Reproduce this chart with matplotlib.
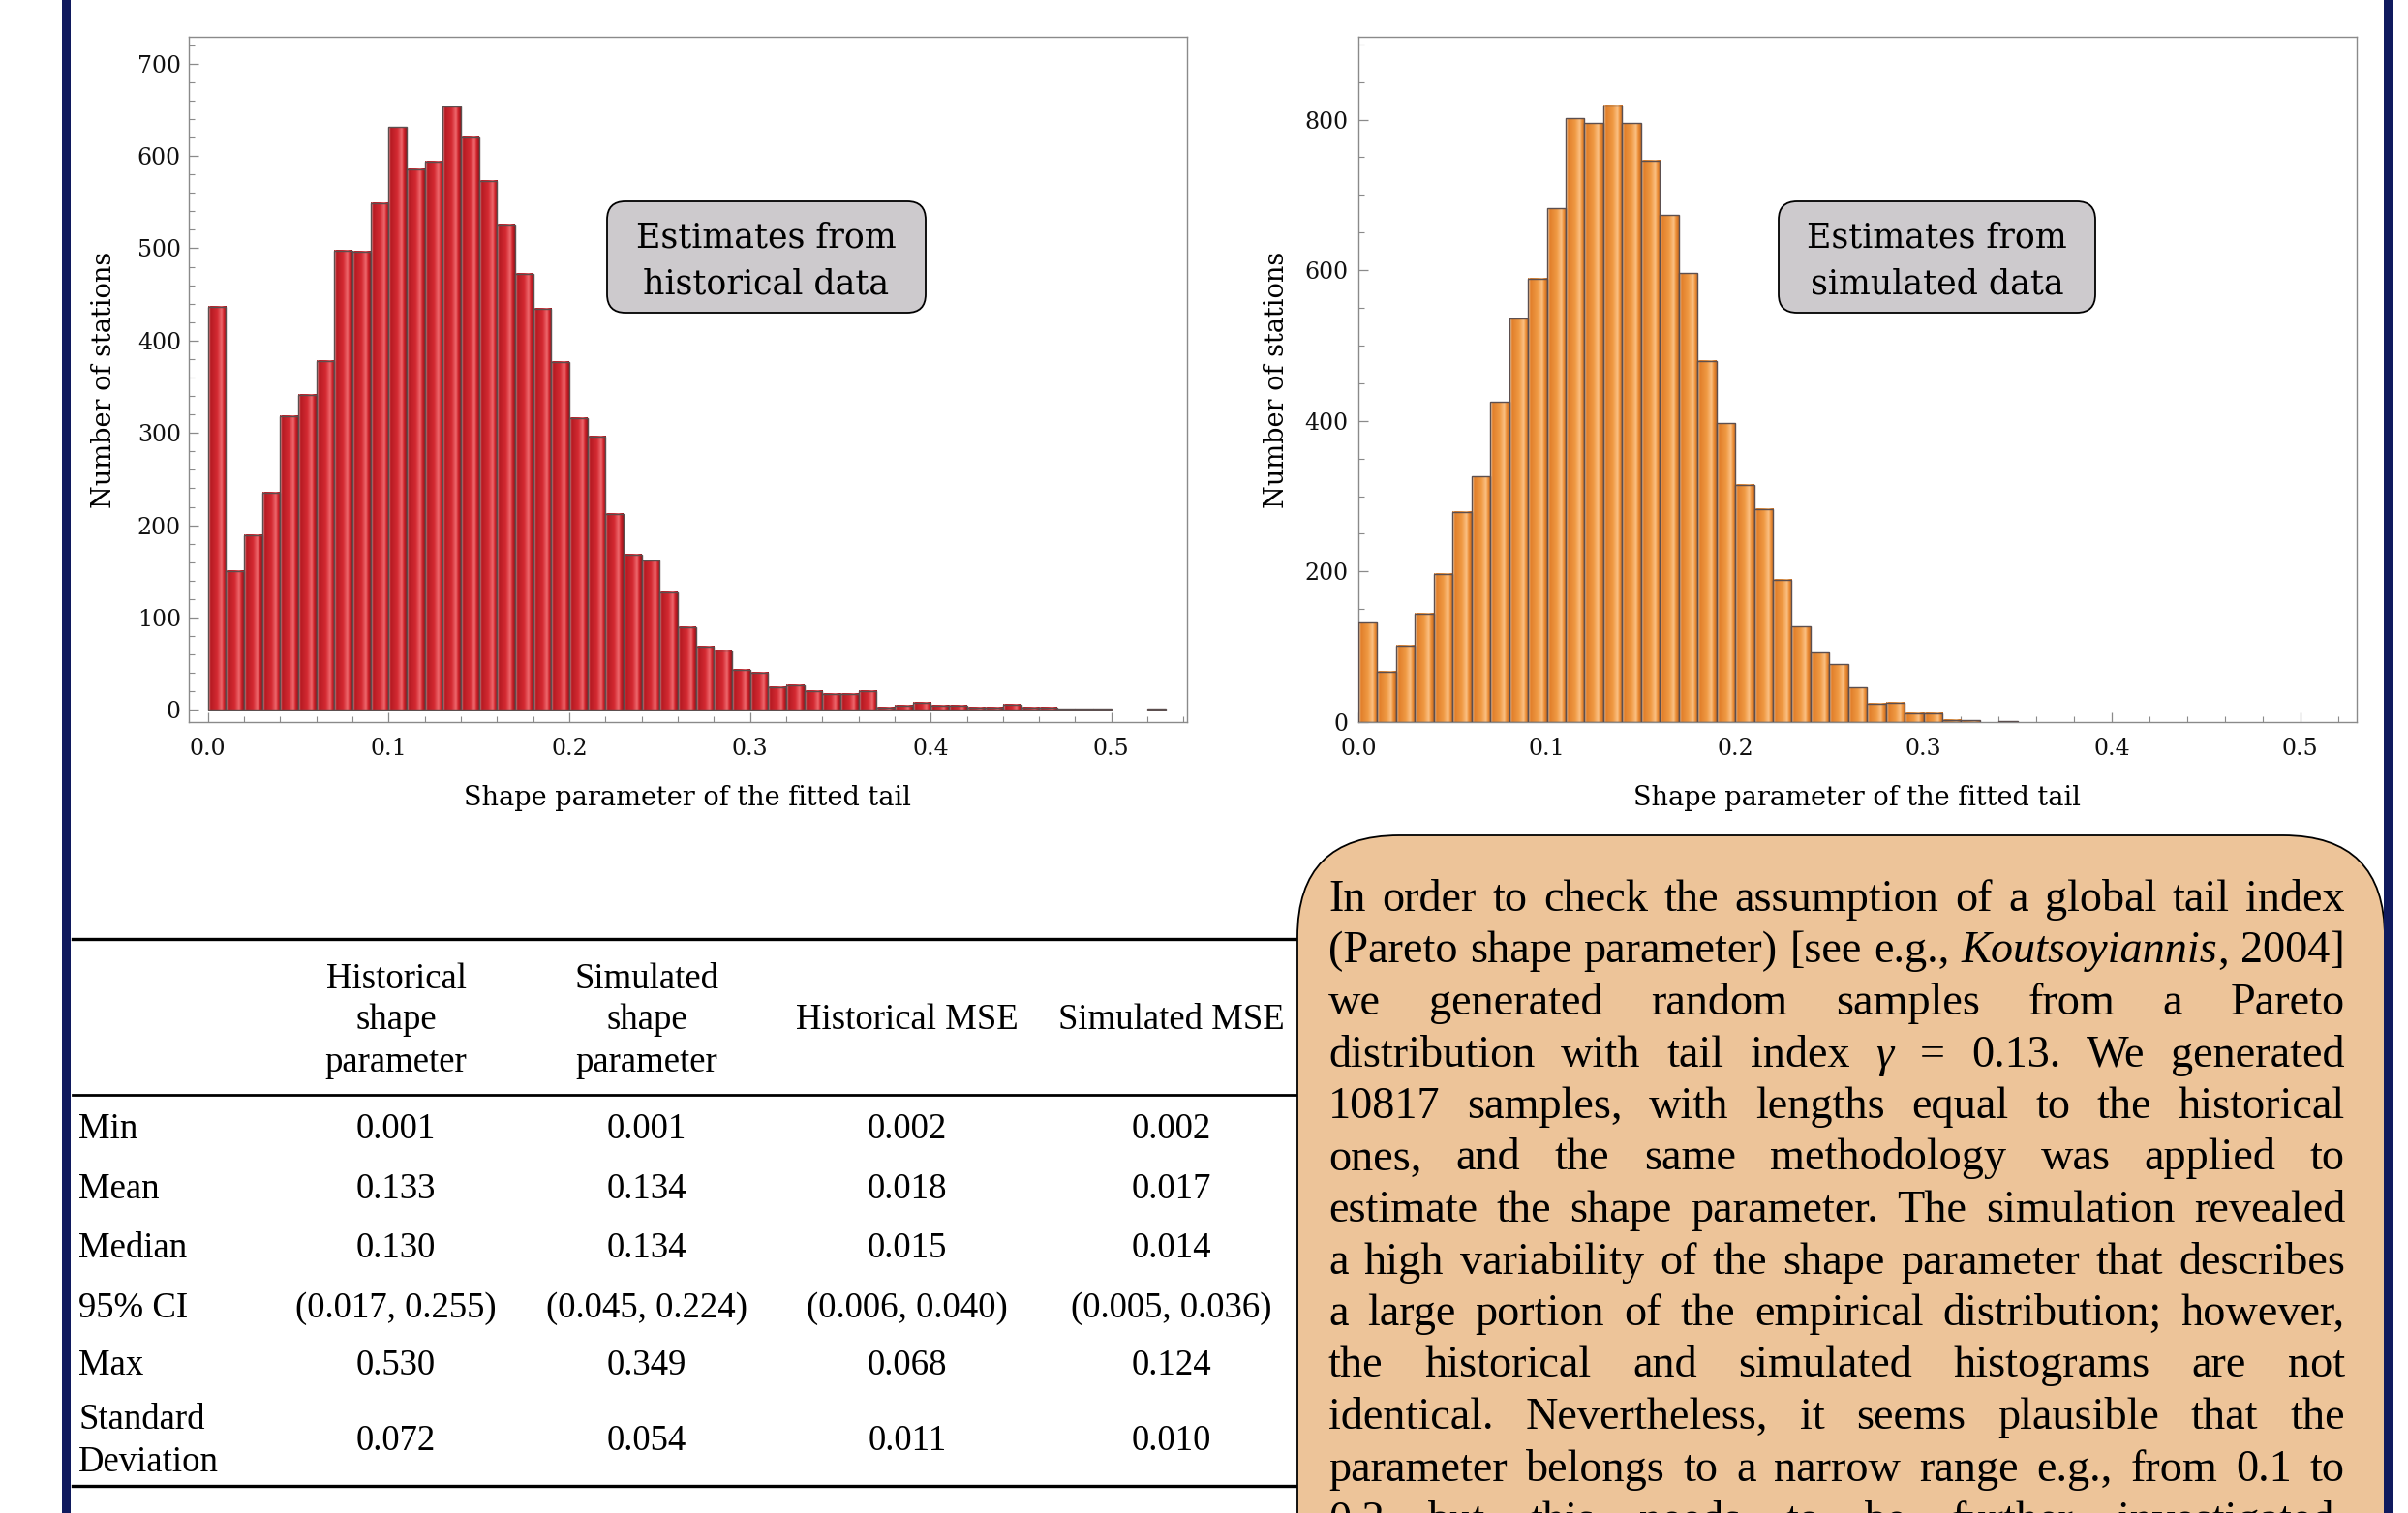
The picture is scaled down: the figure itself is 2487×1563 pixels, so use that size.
import numpy as np
import matplotlib
matplotlib.use("Agg")
import matplotlib.pyplot as plt
from matplotlib.patches import FancyBboxPatch, Rectangle
from matplotlib.lines import Line2D
from matplotlib.transforms import Affine2D
from matplotlib.colors import LinearSegmentedColormap
from matplotlib.ticker import MultipleLocator, FormatStrFormatter

# ---------------- data ----------------
bin_width = 0.01
hist_counts = [437, 150, 189, 235, 318, 341, 378, 497, 496, 549,
               631, 585, 594, 654, 620, 573, 526, 472, 434, 377,
               316, 296, 212, 168, 162, 127, 90, 69, 64, 43,
               40, 25, 27, 20, 17, 17, 20, 3, 5, 8,
               5, 5, 3, 3, 6, 3, 3, 1, 1, 1,
               0, 0, 1]
sim_counts = [132, 67, 102, 144, 197, 279, 326, 425, 536, 589,
              682, 802, 795, 819, 795, 746, 673, 596, 480, 397,
              315, 283, 189, 127, 92, 77, 46, 25, 26, 12,
              12, 3, 2, 0, 1]

hist_box_text = ["Estimates from", "historical data"]
sim_box_text = ["Estimates from", "simulated data"]
x_label = "Shape parameter of the fitted tail"
y_label = "Number of stations"

row_labels = [["Min"], ["Mean"], ["Median"], ["95% CI"], ["Max"], ["Standard", "Deviation"]]
col_headers = [["Historical", "shape", "parameter"],
               ["Simulated", "shape", "parameter"],
               ["Historical MSE"],
               ["Simulated MSE"]]
hist_shape = ["0.001", "0.133", "0.130", "(0.017, 0.255)", "0.530", "0.072"]
sim_shape = ["0.001", "0.134", "0.134", "(0.045, 0.224)", "0.349", "0.054"]
hist_mse = ["0.002", "0.018", "0.015", "(0.006, 0.040)", "0.068", "0.011"]
sim_mse = ["0.002", "0.017", "0.014", "(0.005, 0.036)", "0.124", "0.010"]

paragraph_lines = [
    "In order to check the assumption of a global tail index",
    "(Pareto shape parameter) [see e.g., *Koutsoyiannis*, 2004]",
    "we generated random samples from a Pareto",
    "distribution with tail index *γ* = 0.13. We generated",
    "10817 samples, with lengths equal to the historical",
    "ones, and the same methodology was applied to",
    "estimate the shape parameter. The simulation revealed",
    "a high variability of the shape parameter that describes",
    "a large portion of the empirical distribution; however,",
    "the historical and simulated histograms are not",
    "identical. Nevertheless, it seems plausible that the",
    "parameter belongs to a narrow range e.g., from 0.1 to",
    "0.2 but this needs to be further investigated.",
]

# ---------------- figure ----------------
W, H, DPI = 2487, 1563, 100
plt.rcParams['font.family'] = ['DejaVu Serif']
fig = plt.figure(figsize=(W / DPI, H / DPI), dpi=DPI, facecolor='white')
PX = Affine2D().scale(1, -1).translate(0, H).scale(1.0 / DPI) + fig.dpi_scale_trans
SERIF_T = ['Liberation Serif', 'DejaVu Serif']


def add_axes_px(x0, y0, x1, y1):
    return fig.add_axes([x0 / W, 1 - y1 / H, (x1 - x0) / W, (y1 - y0) / H])


red_cmap = LinearSegmentedColormap.from_list("redbar", [
    (0.00, "#8e1016"), (0.06, "#e88a8c"), (0.12, "#b51a22"), (0.50, "#d42a32"),
    (0.74, "#ee6a6e"), (0.86, "#d0242c"), (1.00, "#97121a")])
orange_cmap = LinearSegmentedColormap.from_list("orangebar", [
    (0.00, "#c2631c"), (0.06, "#f8d2a8"), (0.12, "#e07e2a"), (0.50, "#f09a44"),
    (0.74, "#fbc184"), (0.86, "#ec8e36"), (1.00, "#c96c22")])


def draw_hist(ax, counts, cmap, xlim, ylim, ymaj, ymin, ypad):
    lefts = np.arange(len(counts)) * bin_width
    bars = ax.bar(lefts, counts, width=bin_width, align='edge', facecolor='none',
                  edgecolor='#5c4f4f', linewidth=1.0, zorder=3)
    grad = cmap(np.linspace(0, 1, 64))[np.newaxis, :, :]
    for b in bars:
        h = b.get_height()
        if h <= 0:
            b.set_visible(False)
            continue
        ax.imshow(grad, extent=(b.get_x(), b.get_x() + b.get_width(), 0, h),
                  aspect='auto', interpolation='bilinear', zorder=2)
    ax.set_xlim(*xlim)
    ax.set_ylim(*ylim)
    ax.xaxis.set_major_locator(MultipleLocator(0.1))
    ax.xaxis.set_minor_locator(MultipleLocator(0.02))
    ax.xaxis.set_major_formatter(FormatStrFormatter('%.1f'))
    ax.yaxis.set_major_locator(MultipleLocator(ymaj))
    ax.yaxis.set_minor_locator(MultipleLocator(ymin))
    ax.tick_params(which='both', direction='in', top=False, right=False,
                   color='#8a8a8a', labelsize=17, labelcolor='#111111')
    ax.tick_params(which='major', length=7, width=0.9)
    ax.tick_params(which='minor', length=4, width=0.8)
    ax.tick_params(axis='x', pad=11.5)
    ax.tick_params(axis='y', pad=ypad)
    for s in ax.spines.values():
        s.set_color('#8a8a8a')
        s.set_linewidth(1.0)
    ax.set_facecolor('white')


ax1 = add_axes_px(195, 38, 1226, 746)
draw_hist(ax1, hist_counts, red_cmap, (-0.0106, 0.5419), (-13.2, 729), 100, 20, 5.8)
ax2 = add_axes_px(1403, 38, 2434, 746)
draw_hist(ax2, sim_counts, orange_cmap, (0.0, 0.530), (0, 910), 200, 50, 7.5)

# axis labels
for cx in (710, 1918):
    fig.text(cx, 825, x_label, transform=PX, ha='center', va='center', fontsize=19.5)
for cx in (108, 1318):
    fig.text(cx, 392, y_label, transform=PX, ha='center', va='center',
             rotation=90, fontsize=19.5)


# annotation boxes
def label_box(x0, y0, x1, y1, lines, baselines):
    p = FancyBboxPatch((x0, y0), x1 - x0, y1 - y0,
                       boxstyle="round,pad=0,rounding_size=19", transform=PX,
                       facecolor='#cdcacd', edgecolor='black', linewidth=1.3, zorder=6)
    fig.add_artist(p)
    cx = (x0 + x1) / 2
    for line, b in zip(lines, baselines):
        fig.text(cx, b, line, transform=PX, ha='center', va='baseline',
                 fontsize=25, zorder=7)


label_box(627, 208, 956, 323, hist_box_text, (255, 303))
label_box(1837, 208, 2164, 323, sim_box_text, (255, 303))

# ---------------- table ----------------
TFS = 26.5
for y, lw in ((970, 2.4), (1131, 2.0), (1535, 2.4)):
    fig.add_artist(Line2D([75, 1360], [y, y], transform=PX, color='black',
                          linewidth=lw, zorder=1))

col_x = [409, 668, 937, 1210]
header_base = [1021, 1063, 1107]
for cx, hdr in zip(col_x, col_headers):
    bases = header_base if len(hdr) == 3 else [1063]
    for line, b in zip(hdr, bases):
        fig.text(cx, b, line, transform=PX, ha='center', va='baseline',
                 fontsize=TFS, family=SERIF_T, zorder=2)

row_base = [1176, 1238, 1299, 1361, 1420, 1498]
for rb, lab in zip(row_base, row_labels):
    bases = [rb] if len(lab) == 1 else [rb - 22, rb + 22]
    for line, b in zip(lab, bases):
        fig.text(81, b, line, transform=PX, ha='left', va='baseline',
                 fontsize=TFS, family=SERIF_T, zorder=2)

for cx, col in zip(col_x, [hist_shape, sim_shape, hist_mse, sim_mse]):
    for rb, v in zip(row_base, col):
        fig.text(cx, rb, v, transform=PX, ha='center', va='baseline',
                 fontsize=TFS, family=SERIF_T, zorder=2)

# ---------------- text box ----------------
tb = FancyBboxPatch((1340, 863), 2463 - 1340, 1680 - 863,
                    boxstyle="round,pad=0,rounding_size=105", transform=PX,
                    facecolor='#edc499', edgecolor='black', linewidth=1.3, zorder=3)
fig.add_artist(tb)

renderer = fig.canvas.get_renderer()
X0, X1 = 1372, 2422
BASE0, STEP = 941, 53.5


def word_parts(word):
    out = []
    for i, p in enumerate(word.split('*')):
        if p:
            out.append((p, i % 2 == 1))
    return out


def make_line(line, fs):
    arts = []
    for w in line.split():
        parts = []
        for s, it in word_parts(w):
            t = fig.text(0, 0, s, transform=PX, fontsize=fs, family=SERIF_T,
                         style='italic' if it else 'normal', ha='left',
                         va='baseline', zorder=5)
            parts.append(t)
        arts.append(parts)
    return arts


def widths(arts):
    return [[t.get_window_extent(renderer).width for t in parts] for parts in arts]


# choose font size so the widest line exactly fits with normal spaces
fs = 29.5
probe = fig.text(0, 0, "x x", transform=PX, fontsize=fs, family=SERIF_T)
probe2 = fig.text(0, 0, "xx", transform=PX, fontsize=fs, family=SERIF_T)
space_w = probe.get_window_extent(renderer).width - probe2.get_window_extent(renderer).width
probe.remove(); probe2.remove()
max_nat = 0
for line in paragraph_lines:
    arts = make_line(line, fs)
    ws = widths(arts)
    nat = sum(sum(w) for w in ws) + space_w * (len(ws) - 1)
    max_nat = max(max_nat, nat)
    for parts in arts:
        for t in parts:
            t.remove()
fs = fs * (X1 - X0) / max_nat * 0.995

for i, line in enumerate(paragraph_lines):
    arts = make_line(line, fs)
    ws = widths(arts)
    total = sum(sum(w) for w in ws)
    gap = (X1 - X0 - total) / max(len(ws) - 1, 1)
    x = X0
    y = BASE0 + i * STEP
    for parts, wl in zip(arts, ws):
        for t, w in zip(parts, wl):
            t.set_position((x, y))
            x += w
        x += gap

# ---------------- navy borders ----------------
fig.add_artist(Rectangle((64, -5), 9, H + 10, transform=PX, facecolor='#101a5e',
                         edgecolor='none', zorder=10))
fig.add_artist(Rectangle((2462, -5), 10, H + 10, transform=PX, facecolor='#101a5e',
                         edgecolor='none', zorder=10))

fig.savefig("out.png", dpi=DPI, facecolor='white')
